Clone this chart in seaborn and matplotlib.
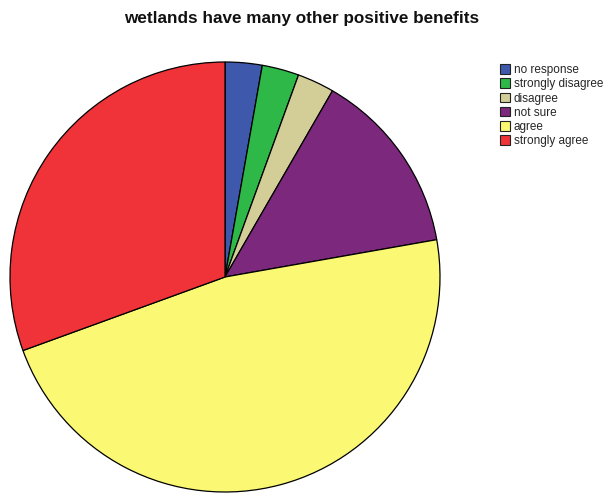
import matplotlib
matplotlib.use("Agg")
import matplotlib.pyplot as plt
import seaborn as sns
from matplotlib.patches import Patch

categories = ["no response", "strongly disagree", "disagree", "not sure", "agree", "strongly agree"]
counts = [1, 1, 1, 5, 17, 11]
colors = ["#3E58AC", "#2EB848", "#D3CE97", "#7C287D", "#FBF873", "#EF3338"]

sns.set_theme(style="white")
plt.rcParams["font.family"] = ["Liberation Sans", "DejaVu Sans"]
palette = sns.color_palette(colors)

W, H = 603, 494
fig = plt.figure(figsize=(W / 100, H / 100), dpi=100)
fig.patch.set_facecolor("white")

cx, cy, r = 225, 277, 215
ax = fig.add_axes([(cx - r) / W, (H - cy - r) / H, 2 * r / W, 2 * r / H])
ax.pie(counts, colors=palette, startangle=90, counterclock=False, radius=1.0,
       wedgeprops=dict(edgecolor="black", linewidth=0.9))
ax.set_xlim(-1.0, 1.0)
ax.set_ylim(-1.0, 1.0)
ax.set_aspect("equal")
ax.axis("off")

fig.text(302 / W, 1 - 18 / H, "wetlands have many other positive benefits",
         ha="center", va="center", fontsize=12.3, fontweight="bold", color="#111111")

handles = [Patch(facecolor=c, edgecolor="#222222", linewidth=0.8) for c in palette]
leg = fig.legend(handles, categories, loc="upper left",
                 bbox_to_anchor=(492 / W, 1 - 56 / H), frameon=False,
                 fontsize=8.5, handlelength=0.85, handleheight=0.9,
                 handletextpad=0.3, labelspacing=0.18, borderpad=0.2)

fig.savefig("out.png", dpi=100, facecolor="white")
